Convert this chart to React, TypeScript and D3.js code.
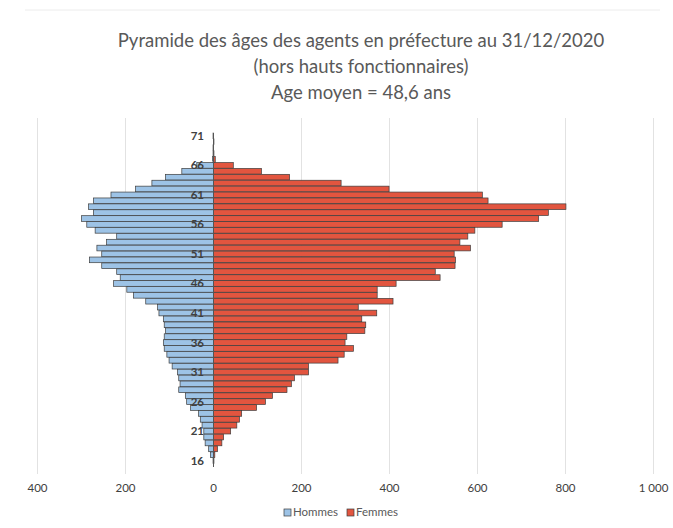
import React from "react";
import * as d3 from "d3";

const ages: number[] = [71,70,69,68,67,66,65,64,63,62,61,60,59,58,57,56,55,54,53,52,51,50,49,48,47,46,45,44,43,42,41,40,39,38,37,36,35,34,33,32,31,30,29,28,27,26,25,24,23,22,21,20,19,18,17,16];
const hommes: number[] = [1,0,1,1,2,38,72,109,140,177,233,273,284,273,300,288,269,220,243,265,254,282,254,220,212,227,197,182,154,127,124,114,112,109,112,114,112,106,101,94,82,79,76,79,64,61,52,34,30,26,22,22,19,11,7,1];
const femmes: number[] = [0,1,0,1,4,45,109,173,290,399,611,624,801,761,739,656,594,578,560,584,547,550,549,504,515,415,372,372,408,329,371,337,346,344,303,299,318,297,283,216,216,184,177,167,134,118,98,64,59,53,39,23,19,9,3,1];
const xTicks: number[] = [-400,-200,0,200,400,600,800,1000];
const ageLabels: number[] = [71,66,61,56,51,46,41,36,31,26,21,16];
const titleLines: string[] = [
  "Pyramide des âges des agents en préfecture au 31/12/2020",
  "(hors hauts fonctionnaires)",
  "Age moyen = 48,6 ans",
];
const seriesNames: string[] = ["Hommes", "Femmes"];

const W = 673, H = 528;
const BLUE = "#9dc3e6", RED = "#e2553f", EDGE = "#3d3d3d";

export default function App() {
  const x = d3.scaleLinear().domain([-400, 1000]).range([37.5, 653.5]);
  const y = d3.scaleBand<number>().domain(ages).range([133, 463.5]).paddingInner(0.04);
  const fmt = (v: number) => {
    const a = Math.abs(v);
    return a >= 1000 ? d3.format(",")(a).replace(",", " ") : String(a);
  };
  const font = "Lato, 'Open Sans', sans-serif";
  return (
    <svg width={W} height={H} style={{ position: "absolute", left: 0, top: 0, background: "#fff" }}>
      <rect x={0} y={0} width={W} height={H} fill="#fff" />
      <line x1={25} x2={660} y1={10} y2={10} stroke="#ececec" strokeWidth={1} />
      {titleLines.map((t, i) => (
        <text key={i} x={361} y={47 + i * 26} textAnchor="middle" fontFamily={font} fontSize={18.5} fill="#595959">{t}</text>
      ))}
      {xTicks.filter(t => t !== 0).map(t => (
        <line key={t} x1={x(t)} x2={x(t)} y1={118} y2={474} stroke="#e2e2e2" strokeWidth={1} />
      ))}
      {ages.map((a, i) => (
        <g key={a}>
          <rect x={x(-hommes[i])} y={y(a)} width={x(0) - x(-hommes[i])} height={y.bandwidth()} fill={BLUE} stroke={EDGE} strokeWidth={0.7} />
          <rect x={x(0)} y={y(a)} width={x(femmes[i]) - x(0)} height={y.bandwidth()} fill={RED} stroke={EDGE} strokeWidth={0.7} />
        </g>
      ))}
      <line x1={x(0)} x2={x(0)} y1={y(71)} y2={467} stroke="#555" strokeWidth={1} />
      {ageLabels.map(a => (
        <text key={a} x={204} y={(y(a) as number) + y.bandwidth() / 2 + 4} textAnchor="end" fontFamily={font} fontSize={11.5} fontWeight="bold" fill="#404040">{a}</text>
      ))}
      {xTicks.map(t => (
        <text key={t} x={x(t)} y={492} textAnchor="middle" fontFamily={font} fontSize={11.5} fill="#404040">{fmt(t)}</text>
      ))}
      <g fontFamily={font} fontSize={11.5} fill="#595959">
        <rect x={284} y={509} width={7} height={7} fill={BLUE} stroke={EDGE} strokeWidth={0.7} />
        <text x={293} y={516}>{seriesNames[0]}</text>
        <rect x={347} y={509} width={7} height={7} fill={RED} stroke={EDGE} strokeWidth={0.7} />
        <text x={356} y={516}>{seriesNames[1]}</text>
      </g>
    </svg>
  );
}
